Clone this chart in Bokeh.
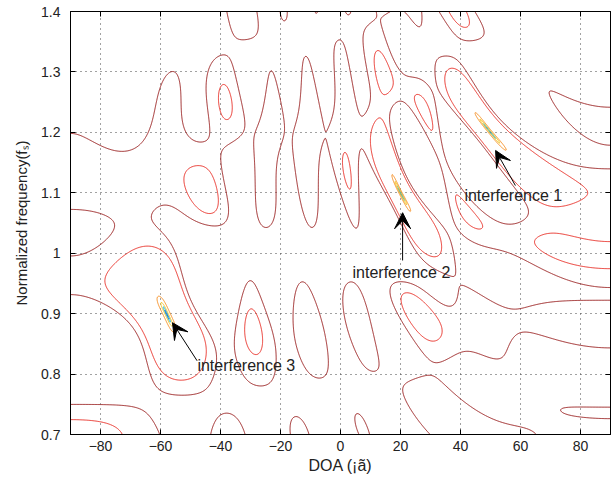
import numpy as np
from bokeh.plotting import figure
from bokeh.models import Arrow, VeeHead, Label, LinearAxis, FixedTicker, Range1d
from bokeh.embed import file_html
from bokeh.resources import INLINE

# ---- data ----
interf_doa = [50.0, 20.0, -58.0]          # DOA of the three interferences (deg)
interf_freq = [1.2, 1.1, 0.9]             # normalized frequency of interferences
interf_inr = [1e6, 1e6, 1e6]              # interference-to-noise ratio
interf_labels = ["interference 1", "interference 2", "interference 3"]
label_doa = [41.3, 4.0, -47.7]
label_freq = [1.095, 0.968, 0.814]
arrow_tail_doa = [58.3, 20.7, -47.8]
arrow_tail_freq = [1.112, 0.988, 0.822]
arrow_head_doa = [51.7, 20.7, -56.0]
arrow_head_freq = [1.17, 1.067, 0.885]
x_ticks = [-80, -60, -40, -20, 0, 20, 40, 60, 80]
y_ticks = [0.7, 0.8, 0.9, 1.0, 1.1, 1.2, 1.3, 1.4]
y_tick_labels = ["0.7", "0.8", "0.9", "1", "1.1", "1.2", "1.3", "1.4"]
contour_levels = [-40.0, -32.0, -25.0, -18.0, -1.2, 0.0]
contour_colors = ["#1c4fb0", "#22b4e6", "#f2c82a", "#f5922a", "#e8342c", "#9c2626"]

# space-time (power-inversion) array model
n_sensors, n_taps, spacing, tap_delay, tap_shift = 12, 8, 0.33, 0.85, 0.0

theta = np.linspace(-90, 90, 721)
freq = np.linspace(0.7, 1.4, 561)


def steer(th_deg, f):
    th = np.deg2rad(np.asarray(th_deg, dtype=float))
    f = np.asarray(f, dtype=float)
    n = np.arange(n_sensors)
    m = np.arange(n_taps)
    pos = spacing * n[:, None] + tap_shift * m[None, :]
    ph = 2 * np.pi * f[..., None, None] * (
        pos * np.sin(th)[..., None, None] + tap_delay * m[None, :]
    )
    return np.exp(1j * ph).reshape(*th.shape, n_sensors * n_taps)


nm = n_sensors * n_taps
A = steer(interf_doa, interf_freq)
R = np.eye(nm, dtype=complex)
for k in range(len(interf_doa)):
    R += interf_inr[k] * np.outer(A[k], A[k].conj())
ref = np.zeros(nm, dtype=complex)
ref[0] = 1.0
w = np.linalg.solve(R, ref)
w = w / np.vdot(ref, w)
TH, FF = np.meshgrid(theta, freq)
S = steer(TH, FF)
resp = np.abs(S @ w.conj()) ** 2
Z = 10 * np.log10(np.maximum(resp, 1e-12))

p = figure(width=615, height=481, output_backend="svg", toolbar_location=None,
           x_range=Range1d(-90, 90), y_range=Range1d(0.7, 1.4),
           min_border_left=70, min_border_right=5, min_border_top=11, min_border_bottom=47,
           background_fill_color="white", border_fill_color="white")
p.outline_line_color = "black"
p.outline_line_width = 1

p.contour(theta, freq, Z, levels=contour_levels, line_color=contour_colors, line_width=1)

font = "Liberation Sans"
for ax in (p.xaxis[0], p.yaxis[0]):
    ax.major_tick_in = 5
    ax.major_tick_out = 0
    ax.minor_tick_in = 0
    ax.minor_tick_out = 0
    ax.major_label_text_font = font
    ax.major_label_text_font_size = "14px"
    ax.major_label_text_color = "#222222"
    ax.axis_line_color = "black"
    ax.major_tick_line_color = "black"
    ax.axis_label_text_font = font
    ax.axis_label_text_font_style = "normal"
    ax.axis_label_text_color = "#222222"
p.xaxis[0].axis_label_text_font_size = "16px"
p.yaxis[0].axis_label_text_font_size = "15px"
p.xaxis[0].ticker = FixedTicker(ticks=x_ticks)
p.yaxis[0].ticker = FixedTicker(ticks=y_ticks)
p.yaxis[0].major_label_overrides = {v: s for v, s in zip(y_ticks, y_tick_labels)}
p.xaxis[0].axis_label = "DOA (¡ã)"
p.yaxis[0].axis_label = "Normalized frequency(fₛ)"
p.xaxis[0].axis_label_standoff = 3
p.yaxis[0].axis_label_standoff = 8
p.xaxis[0].major_label_standoff = 6
p.yaxis[0].major_label_standoff = 10

for side in ("right", "above"):
    ticks = x_ticks if side == "above" else y_ticks
    ax = LinearAxis(ticker=FixedTicker(ticks=ticks),
                    major_label_overrides={v: "" for v in ticks},
                    major_tick_in=5, major_tick_out=0,
                    minor_tick_in=0, minor_tick_out=0, major_label_standoff=0,
                    axis_line_color="black")
    p.add_layout(ax, side)

p.xgrid.ticker = FixedTicker(ticks=x_ticks)
p.ygrid.ticker = FixedTicker(ticks=y_ticks)
for g in (p.xgrid[0], p.ygrid[0]):
    g.grid_line_color = "#444444"
    g.grid_line_dash = "1 4"
    g.grid_line_width = 1

for i in range(len(interf_labels)):
    p.add_layout(Arrow(end=VeeHead(size=16, fill_color="black", line_color="black"),
                       x_start=arrow_tail_doa[i], y_start=arrow_tail_freq[i],
                       x_end=arrow_head_doa[i], y_end=arrow_head_freq[i],
                       line_color="black", line_width=1))
    p.add_layout(Label(x=label_doa[i], y=label_freq[i], text=interf_labels[i],
                       text_font=font, text_font_size="16px", text_color="#222222",
                       text_baseline="middle", text_align="left"))

open("out.html", "w").write(file_html(p, INLINE))
